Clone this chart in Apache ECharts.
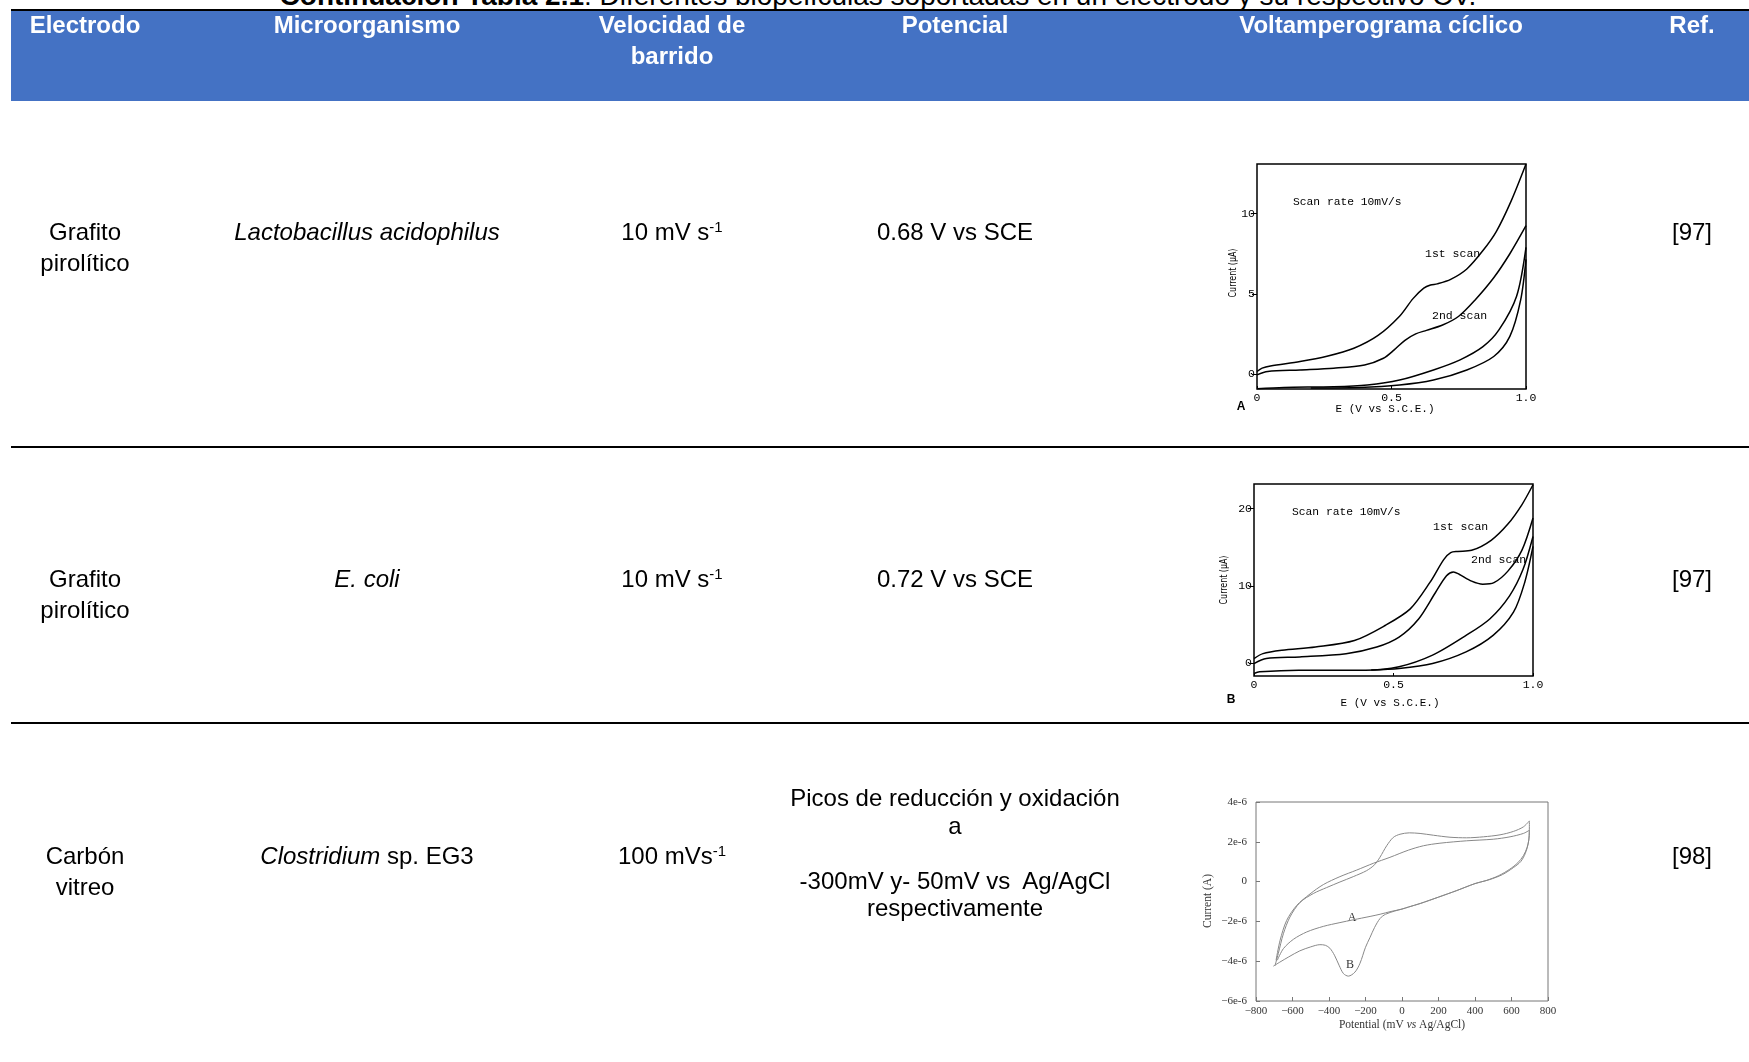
<!DOCTYPE html>
<html>
<head>
<meta charset="utf-8">
<script src="https://cdn.jsdelivr.net/npm/echarts@6/dist/echarts.min.js"></script>
<style>
  html, body { margin: 0; padding: 0; background: #fff; }
  #page { position: relative; width: 1749px; height: 1062px; overflow: hidden;
          font-family: 'Liberation Sans', Arial, sans-serif; }
  .t { position: absolute; white-space: nowrap; color: #000; transform: translateX(-50%); z-index: 3; }
  .h { color: #fff; font-weight: bold; }
  .t sup { font-size: 15px; line-height: 0; vertical-align: baseline; position: relative; top: -8px; }
  #band { position: absolute; left: 11px; top: 11px; width: 1738px; height: 90px; background: #4472C4; z-index: 1; }
  #topRule { position: absolute; left: 11px; top: 9px; width: 1738px; height: 2px; background: #000; z-index: 1; }
  .rule { position: absolute; left: 11px; width: 1738px; height: 2px; background: #000; z-index: 1; }
  #chart { position: absolute; left: 0; top: 0; width: 1749px; height: 1062px; z-index: 2; }
</style>
</head>
<body>
<div id="page">
  <div id="topRule"></div>
  <div id="band"></div>
  <div class="rule" style="top:446px"></div>
  <div class="rule" style="top:722px"></div>
  <div id="chart"></div>
</div>
<script>
// ---- table contents ----
const caption = ['Continuación Tabla 2.1', ': Diferentes biopelículas soportadas en un electrodo y su respectivo CV.'];
const headers = [['Electrodo'], ['Microorganismo'], ['Velocidad de', 'barrido'], ['Potencial'], ['Voltamperograma cíclico'], ['Ref.']];
const electrodes = [['Grafito', 'pirolítico'], ['Grafito', 'pirolítico'], ['Carbón', 'vitreo']];
const organisms = ['<i>Lactobacillus acidophilus</i>', '<i>E. coli</i>', '<i>Clostridium</i> sp. EG3'];
const scanRates = ['10 mV s<sup>-1</sup>', '10 mV s<sup>-1</sup>', '100 mVs<sup>-1</sup>'];
const potentials = [['0.68 V vs SCE'], ['0.72 V vs SCE'],
  ['Picos de reducción y oxidación', 'a', '', '-300mV y- 50mV vs&nbsp; Ag/AgCl', 'respectivamente']];
const refs = ['[97]', '[97]', '[98]'];

// ---- voltammogram A (L. acidophilus), E in V, I in µA ----
const aXTicks = [0, 0.5, 1.0];
const aYTicks = [0, 5, 10];
const aScan1Fwd = [[0,0.15],[0.019,0.36],[0.05,0.5],[0.16,0.77],[0.26,1.1],[0.36,1.6],[0.45,2.4],[0.53,3.6],[0.58,4.7],[0.62,5.35],[0.645,5.55],[0.67,5.62],[0.72,5.9],[0.78,6.55],[0.84,7.7],[0.89,8.9],[0.945,10.8],[1.0,13.1]];
const aScan1Rev = [[1.0,7.9],[0.965,4.85],[0.90,2.76],[0.84,1.7],[0.755,0.88],[0.656,0.25],[0.53,-0.38],[0.41,-0.69],[0.285,-0.8],[0.1,-0.84],[0,-0.92]];
const aScan2Fwd = [[0,-0.06],[0.04,0.15],[0.16,0.25],[0.285,0.36],[0.40,0.56],[0.47,0.98],[0.51,1.5],[0.55,2.1],[0.59,2.5],[0.63,2.72],[0.69,3.05],[0.75,3.6],[0.81,4.6],[0.88,6.0],[0.94,7.5],[1.0,9.25]];
const aScan2Rev = [[1.0,7.15],[0.98,4.6],[0.94,2.34],[0.88,1.09],[0.78,0.25],[0.656,-0.38],[0.53,-0.69],[0.38,-0.84],[0.2,-0.87]];

// ---- voltammogram B (E. coli) ----
const bXTicks = [0, 0.5, 1.0];
const bYTicks = [0, 10, 20];
const bScan1Fwd = [[0,0.56],[0.032,1.2],[0.10,1.63],[0.22,2.06],[0.36,2.9],[0.47,4.85],[0.56,7.0],[0.63,10.4],[0.68,13.4],[0.705,14.3],[0.73,14.45],[0.78,14.6],[0.85,15.9],[0.91,18.0],[0.96,20.5],[1.0,23.1]];
const bScan1Rev = [[1.0,16.4],[0.964,12.1],[0.916,8.7],[0.845,5.7],[0.76,3.56],[0.64,1.0],[0.52,-0.5],[0.40,-0.94],[0.16,-0.94],[0.02,-1.16],[0,-1.37]];
const bScan2Fwd = [[0,-0.09],[0.044,0.56],[0.164,0.77],[0.33,1.2],[0.44,2.06],[0.52,3.35],[0.59,5.7],[0.65,9.1],[0.69,11.3],[0.715,11.8],[0.735,11.5],[0.78,10.6],[0.82,10.2],[0.86,10.4],[0.91,11.9],[0.96,14.6],[1.0,18.8]];
const bScan2Rev = [[1.0,15.1],[0.97,10.4],[0.93,6.57],[0.857,3.56],[0.76,1.42],[0.64,-0.09],[0.52,-0.73],[0.42,-0.92]];

// ---- voltammogram C (Clostridium sp. EG3), E in mV, I in 1e-6 A ----
const cAFwd = [[-690,-3.95],[-668,-2.95],[-632,-1.95],[-577,-1.2],[-504,-0.62],[-431,-0.15],[-340,0.25],[-248,0.58],[-157,0.92],[-66,1.22],[35,1.58],[117,1.8],[208,1.93],[354,2.05],[500,2.13],[592,2.25],[665,2.42],[698,2.58]];
const cARev = [[698,2.58],[695,2.1],[685,1.7],[665,1.3],[635,0.95],[590,0.62],[530,0.3],[460,0.05],[400,-0.1],[300,-0.45],[200,-0.78],[100,-1.1],[35,-1.28],[0,-1.38],[-60,-1.5],[-120,-1.64],[-175,-1.75],[-267,-1.92],[-340,-2.06],[-431,-2.25],[-522,-2.53],[-595,-2.9],[-650,-3.37],[-683,-3.95]];
const cBFwd = [[-696,-4.23],[-678,-3.62],[-650,-2.62],[-614,-1.78],[-559,-1.05],[-486,-0.6],[-413,-0.3],[-340,-0.02],[-267,0.25],[-194,0.55],[-150,0.85],[-121,1.22],[-84,1.8],[-48,2.22],[-11,2.38],[40,2.45],[99,2.42],[172,2.33],[263,2.23],[354,2.2],[446,2.25],[537,2.35],[610,2.52],[665,2.75],[698,3.05]];
const cBRev = [[698,3.05],[697,2.3],[690,1.85],[675,1.4],[650,1.0],[610,0.7],[550,0.35],[480,0.1],[400,-0.1],[300,-0.45],[200,-0.78],[100,-1.1],[35,-1.28],[0,-1.38],[-40,-1.48],[-90,-1.64],[-120,-1.85],[-150,-2.3],[-175,-2.8],[-200,-3.3],[-230,-4.1],[-258,-4.55],[-294,-4.75],[-321,-4.62],[-345,-4.2],[-370,-3.7],[-395,-3.35],[-420,-3.2],[-450,-3.17],[-500,-3.28],[-560,-3.48],[-620,-3.78],[-670,-4.05],[-705,-4.25]];

// ---- table text ----
const page = document.getElementById('page');
function put(html, cx, baseline, size, cls) {
  const d = document.createElement('div');
  d.className = 't' + (cls ? ' ' + cls : '');
  d.style.fontSize = size + 'px';
  d.style.lineHeight = size + 'px';
  d.style.left = cx + 'px';
  d.style.top = (baseline - 0.8465 * size) + 'px';
  d.innerHTML = html;
  page.appendChild(d);
  return d;
}
const cap = put('<b>' + caption[0] + '</b>' + caption[1], 878, 6, 28);
cap.style.zIndex = 0;

const colX = [85, 367, 672, 955, 1381, 1692];
headers.forEach((lines, i) => lines.forEach((s, k) => put(s, colX[i], 33 + k * 31, 24, 'h')));

const rowBase = [240, 587, 864];
rowBase.forEach((b, r) => {
  electrodes[r].forEach((s, k) => put(s, colX[0], b + k * 31, 24));
  put(organisms[r], colX[1], b, 24);
  put(scanRates[r], colX[2], b, 24);
  put(refs[r], colX[5], b, 24);
});
put(potentials[0][0], colX[3], rowBase[0], 24);
put(potentials[1][0], colX[3], rowBase[1], 24);
const potBase = [806, 834, 862, 889, 916];
potentials[2].forEach((s, k) => { if (s) put(s, colX[3], potBase[k], 24); });

// ---- voltammograms ----
const mono = "'Liberation Mono', 'DejaVu Sans Mono', monospace";
const serif = "'Liberation Serif', 'DejaVu Serif', serif";
const narrow = "'DejaVu Sans Condensed', 'Liberation Sans', sans-serif";

function vAxisX(gi, ticks) {
  return { gridIndex: gi, type: 'value', min: 0, max: 1,
    axisLine: { show: false, onZero: false }, splitLine: { show: false },
    axisTick: { show: true, inside: true, length: 3, customValues: ticks, lineStyle: { color: '#000', width: 1 } },
    axisLabel: { customValues: ticks, margin: 3, color: '#000', fontFamily: mono, fontSize: 11.5,
      formatter: v => v === 0 ? '0' : v.toFixed(1) } };
}
function vAxisY(gi, min, max, ticks) {
  return { gridIndex: gi, type: 'value', min: min, max: max,
    axisLine: { show: false, onZero: false }, splitLine: { show: false },
    axisTick: { show: true, inside: false, length: 5, customValues: ticks, lineStyle: { color: '#000', width: 1 } },
    axisLabel: { customValues: ticks, margin: 2, color: '#000', fontFamily: mono, fontSize: 11.5,
      formatter: v => String(v) } };
}
function curve(data, gi, color, width) {
  return { type: 'line', xAxisIndex: gi, yAxisIndex: gi, data: data, smooth: 0.3,
    showSymbol: false, silent: true, animation: false,
    lineStyle: { color: color, width: width } };
}
const minus = v => (v < 0 ? '\u2212' : '') + Math.abs(v);

function txt(x, y, text, font, extra) {
  return Object.assign({ type: 'text', x: x, y: y, silent: true,
    style: Object.assign({ text: text, font: font, fill: '#000', align: 'left', verticalAlign: 'middle' }, extra || {}) });
}
function vtxt(x, y, text, font, fill, sx) {
  const g = txt(x, y, text, font, { align: 'center', fill: fill });
  g.rotation = Math.PI / 2;
  g.scaleX = sx;
  return g;
}

const option = {
  animation: false,
  grid: [
    { left: 1257, top: 164, width: 269, height: 225, show: true, borderColor: '#000', borderWidth: 1.5, backgroundColor: 'transparent' },
    { left: 1254, top: 484, width: 279, height: 192, show: true, borderColor: '#000', borderWidth: 1.5, backgroundColor: 'transparent' },
    { left: 1256, top: 802, width: 292, height: 199, show: true, borderColor: '#777', borderWidth: 1, backgroundColor: 'transparent' }
  ],
  xAxis: [
    vAxisX(0, aXTicks),
    vAxisX(1, bXTicks),
    { gridIndex: 2, type: 'value', min: -800, max: 800, interval: 200,
      axisLine: { show: false, onZero: false }, splitLine: { show: false },
      axisTick: { show: true, inside: true, length: 4, lineStyle: { color: '#777' } },
      axisLabel: { margin: 5, color: '#333', fontFamily: serif, fontSize: 11, formatter: minus } }
  ],
  yAxis: [
    vAxisY(0, -0.94, 13.1, aYTicks),
    vAxisY(1, -1.7, 23.2, bYTicks),
    { gridIndex: 2, type: 'value', min: -6, max: 4, interval: 2,
      axisLine: { show: false, onZero: false }, splitLine: { show: false },
      axisTick: { show: true, inside: true, length: 4, lineStyle: { color: '#777' } },
      axisLabel: { margin: 9, color: '#333', fontFamily: serif, fontSize: 11,
        formatter: v => v === 0 ? '0' : minus(v) + 'e-6' } }
  ],
  series: [
    curve(aScan1Fwd, 0, '#000', 1.5), curve(aScan1Rev, 0, '#000', 1.5),
    curve(aScan2Fwd, 0, '#000', 1.5), curve(aScan2Rev, 0, '#000', 1.5),
    curve(bScan1Fwd, 1, '#000', 1.5), curve(bScan1Rev, 1, '#000', 1.5),
    curve(bScan2Fwd, 1, '#000', 1.5), curve(bScan2Rev, 1, '#000', 1.5),
    curve(cAFwd, 2, '#888', 1), curve(cARev, 2, '#888', 1),
    curve(cBFwd, 2, '#888', 1), curve(cBRev, 2, '#888', 1)
  ],
  graphic: [
    // panel A
    txt(1293, 202, 'Scan rate 10mV/s', '11.3px ' + mono),
    txt(1425, 254, '1st scan', '11.5px ' + mono),
    txt(1432, 316, '2nd scan', '11.5px ' + mono),
    txt(1385, 409, 'E (V vs S.C.E.)', '11px ' + mono, { align: 'center' }),
    vtxt(1233, 273, 'Current (\u03bcA)', '11px ' + narrow, '#000', 0.8),
    txt(1241, 407, 'A', 'bold 12px ' + "'Liberation Sans', sans-serif", { align: 'center' }),
    // panel B
    txt(1292, 512, 'Scan rate 10mV/s', '11.3px ' + mono),
    txt(1433, 527, '1st scan', '11.5px ' + mono),
    txt(1471, 560, '2nd scan', '11.5px ' + mono),
    txt(1390, 703, 'E (V vs S.C.E.)', '11px ' + mono, { align: 'center' }),
    vtxt(1224, 580, 'Current (\u03bcA)', '11px ' + narrow, '#000', 0.8),
    txt(1231, 700, 'B', 'bold 12px ' + "'Liberation Sans', sans-serif", { align: 'center' }),
    // panel C
    { type: 'text', x: 1402, y: 1025, silent: true,
      style: { text: 'Potential (mV {i|vs} Ag/AgCl)', fontFamily: serif, fontSize: 11.5, fill: '#333',
        align: 'center', verticalAlign: 'middle',
        rich: { i: { fontFamily: serif, fontSize: 11.5, fontStyle: 'italic', fill: '#333' } } } },
    vtxt(1208, 901, 'Current (A)', '11.5px ' + serif, '#333', 1),
    txt(1352, 918, 'A', '12px ' + serif, { align: 'center', fill: '#333' }),
    txt(1350, 965, 'B', '12px ' + serif, { align: 'center', fill: '#333' })
  ]
};

const chart = echarts.init(document.getElementById('chart'), null, { renderer: 'canvas' });
chart.setOption(option);
</script>
</body>
</html>
